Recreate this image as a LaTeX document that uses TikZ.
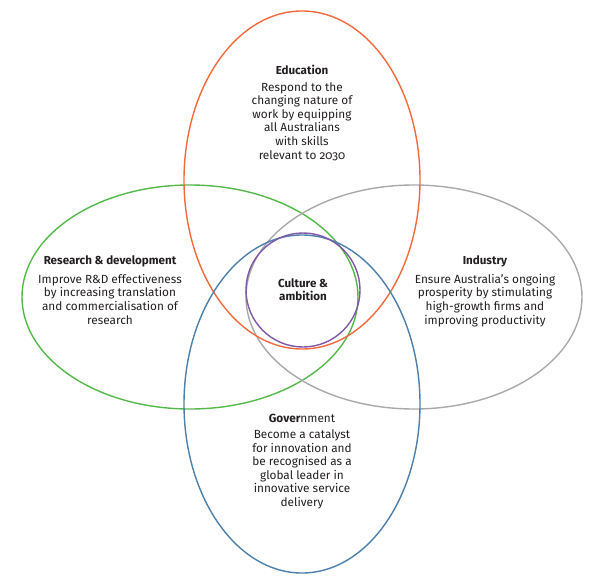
\documentclass[tikz,border=0pt]{standalone}
\usepackage{fontspec}
\setmainfont{Fira Sans}[Numbers=OldStyle]
\usepackage{xcolor}
\usetikzlibrary{positioning}
\definecolor{tangerine}{HTML}{F26A3C}
\definecolor{fern}{HTML}{55B84A}
\definecolor{pewter}{HTML}{A9A9AB}
\definecolor{lagoon}{HTML}{4C7FA9}
\definecolor{amethyst}{HTML}{7F58A8}
\definecolor{ink}{HTML}{231F20}

\begin{document}
\begin{tikzpicture}[x=1bp, y=-1bp, node distance=7bp,
    ring/.style={line width=1.4bp},
    head/.style={font=\bfseries\fontsize{11.6bp}{13bp}\selectfont, text=ink, inner sep=0pt},
    body/.style={font=\fontsize{11.8bp}{13.6bp}\selectfont, text=ink, align=center, inner sep=0pt}]
    \useasboundingbox (0,0) rectangle (597,579);

    % Research & development and Industry
    \draw[ring, fern] (190,297) ellipse (168 and 112);
    \draw[ring, pewter] (414,297) ellipse (168 and 112);

    % Education and Government
    \draw[ring, tangerine] (302,180) ellipse (118 and 169);
    \draw[ring, lagoon] (302,404) ellipse (118 and 169);

    % Culture & ambition
    \draw[ring, amethyst] (303,290) circle (57);

    % Labels
    \node[head] (edu) at (302,70) {Education};
    \node[body, below=of edu] (edutext) {Respond to the\\changing nature of\\work by equipping\\all Australians\\with skills\\relevant to 2030};

    \node[head] (rnd) at (110,261) {Research \& development};
    \node[body, below=of rnd] (rndtext) {Improve R\&D effectiveness\\by increasing translation\\and commercialisation of\\research};

    \node[head] (ind) at (485,261) {Industry};
    \node[body, below=of ind] (indtext) {Ensure Australia's ongoing\\prosperity by stimulating\\high-growth firms and\\improving productivity};

    \node[head, align=center] (cult) at (303,290) {Culture \&\\ambition};

    \node[body] (gov) at (302,418) {{\bfseries Gover}nment};
    \node[body, below=of gov] (govtext) {Become a catalyst\\for innovation and\\be recognised as a\\global leader in\\innovative service\\delivery};
\end{tikzpicture}
\end{document}
